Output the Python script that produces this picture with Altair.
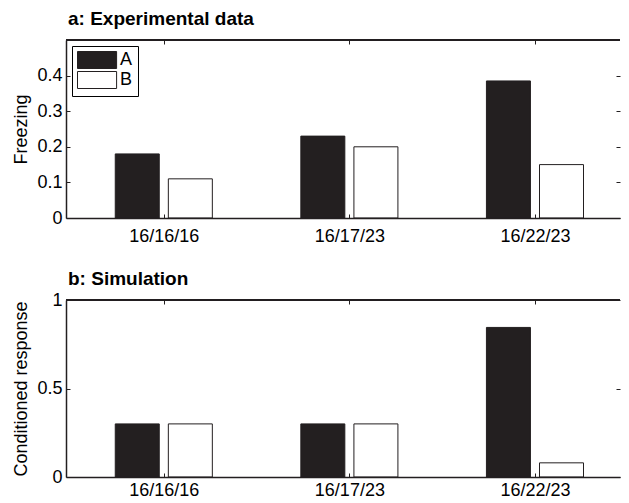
import altair as alt
import pandas as pd

groups = ["16/16/16", "16/17/23", "16/22/23"]
series = ["A", "B"]
freezing_A = [0.18, 0.23, 0.385]
freezing_B = [0.11, 0.20, 0.15]
sim_A = [0.30, 0.30, 0.845]
sim_B = [0.30, 0.30, 0.08]

FONT = "Liberation Sans"
INK = "#231f20"
W = 554
HA = 178
HB = 177
FS = 18


def make_df(a, b):
    rows = []
    for i, g in enumerate(groups):
        rows.append({"idx": i + 1, "group": g, "series": "A", "value": a[i]})
        rows.append({"idx": i + 1, "group": g, "series": "B", "value": b[i]})
    return pd.DataFrame(rows)


label_expr = "[" + ",".join("'%s'" % g for g in groups) + "][datum.value - 1]"


def panel(df, title, ytitle, ydomain, yticks, h, fmt, legend, toff, xpad):
    base = alt.Chart(df).transform_calculate(
        pos="datum.idx + (datum.series == 'A' ? -0.143 : 0.143)"
    )
    bars = base.mark_bar(size=44, stroke=INK, strokeWidth=1).encode(
        x=alt.X(
            "pos:Q",
            scale=alt.Scale(domain=[0.5, 0.5 + W / 189.0], nice=False, zero=False),
            axis=alt.Axis(
                values=[1, 2, 3], labelExpr=label_expr, title=None,
                grid=True, gridDash=[4, h - 8], gridColor=INK, gridWidth=1, gridOpacity=1,
                ticks=False, domain=True, domainColor=INK, domainWidth=1.5,
                labelFontSize=FS, labelFont=FONT, labelColor="black", labelPadding=xpad,
                labelFlush=False, zindex=1,
            ),
        ),
        y=alt.Y(
            "value:Q",
            scale=alt.Scale(domain=ydomain, nice=False),
            axis=alt.Axis(
                values=yticks, format=fmt, title=ytitle,
                grid=True, gridDash=[4, W - 8], gridColor=INK, gridWidth=1, gridOpacity=1,
                ticks=False, domain=True, domainColor=INK, domainWidth=1.5,
                labelFontSize=FS, labelFont=FONT, labelColor="black", labelPadding=4,
                labelFlush=False, titleFont=FONT, titleFontSize=FS, titleFontWeight="normal",
                titleColor="black", titleX=-45, titleY=h / 2, titleAngle=270,
                titleAlign="center", titleBaseline="middle", zindex=1,
            ),
        ),
        fill=alt.Fill(
            "series:N",
            scale=alt.Scale(domain=series, range=[INK, "#ffffff"]),
            legend=legend,
        ),
    )
    top = base.mark_rule(color=INK, strokeWidth=1.5).encode(
        x=alt.value(0), x2=alt.value(W), y=alt.value(0)
    )
    return alt.layer(bars, top).properties(
        width=W, height=h,
        title=alt.TitleParams(
            title, anchor="start", frame="group", fontSize=19, fontWeight="bold",
            font=FONT, color="black", baseline="alphabetic", offset=toff, dx=2,
        ),
    )


legend_a = alt.Legend(
    title=None, orient="none", legendX=6, legendY=6,
    strokeColor="black", fillColor="white", padding=5,
    symbolType="M-1,-1H3.6V1H-1Z", symbolSize=289,
    symbolStrokeColor=INK, symbolStrokeWidth=1, symbolOpacity=1,
    labelFontSize=FS, labelFont=FONT, labelColor="black", labelOffset=25,
    rowPadding=-2,
)

pa = panel(make_df(freezing_A, freezing_B), "a: Experimental data", "Freezing",
           [0, 0.5], [0, 0.1, 0.2, 0.3, 0.4], HA, "~g", legend_a, -5, 9)
pb = panel(make_df(sim_A, sim_B), "b: Simulation", "Conditioned response",
           [0, 1], [0, 0.5, 1], HB, "~g", None, -13, 4)

chart = alt.vconcat(pa, pb, spacing=25).properties(
    padding={"left": 3, "top": 2, "right": 0, "bottom": 0}
).configure_view(stroke=None)

chart.save("out.html", embed_options={"renderer": "svg", "actions": False})
